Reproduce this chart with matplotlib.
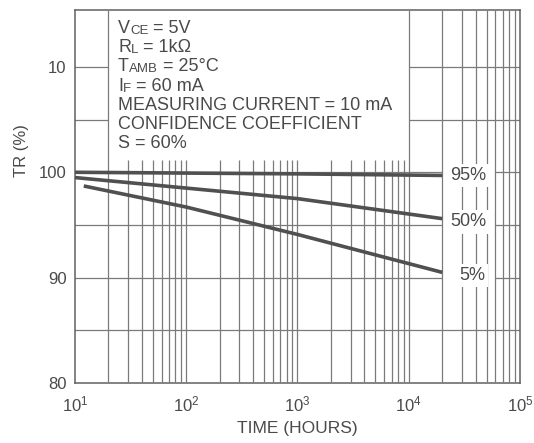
import numpy as np
import matplotlib
matplotlib.use("Agg")
from matplotlib import pyplot as plt
from matplotlib.patches import Rectangle

plt.rcParams['font.family'] = ['Liberation Sans', 'DejaVu Sans']
plt.rcParams['mathtext.fontset'] = 'custom'
plt.rcParams['mathtext.rm'] = 'Liberation Sans'

# curve data (hours, TR %)
t_95 = [10, 1000, 20000]
tr_95 = [100.0, 99.85, 99.7]
t_50 = [10, 100, 1000, 20000]
tr_50 = [99.5, 98.5, 97.5, 95.6]
t_5 = [12, 100, 1000, 20000]
tr_5 = [98.7, 96.7, 94.1, 90.5]
curve_labels = ['95%', '50%', '5%']
label_x = [3.4e4, 3.4e4, 3.7e4]
label_y = [99.7, 95.3, 90.2]

y_ticks = [80, 90, 100, 110]
y_ticklabels = ['80', '90', '100', '10']

cond_lines = [('V', 'CE', ' = 5V'), ('R', 'L', ' = 1k\u03a9'), ('T', 'AMB', ' = 25\u00b0C'),
              ('I', 'F', ' = 60 mA'), ('MEASURING CURRENT = 10 mA', '', ''),
              ('CONFIDENCE COEFFICIENT', '', ''), ('S = 60%', '', '')]

ink = '#4a4a4a'
grid_c = '#7a7a7a'

fig = plt.figure(figsize=(5.34, 4.43), dpi=100)
ax = fig.add_axes([0.1404, 0.1354, 0.8334, 0.842])
ax.set_xscale('log')
ax.set_xlim(10, 1e5)
ax.set_ylim(80, 115.4)

box_top = 101.2
# horizontal grid
for yv in [85, 90, 95, 100, 105, 110]:
    ax.axhline(yv, color=grid_c, lw=0.9, zorder=1)
# white boxes for the conditions text and the curve labels
ax.add_patch(Rectangle((20, box_top), 1e4 - 20, 20, facecolor='white', edgecolor='none', zorder=2))
ax.add_patch(Rectangle((2e4, 88.4), 4e4, box_top + 0.3 - 88.4, facecolor='white', edgecolor='none', zorder=2))

# vertical grid
xs = [m * 10 ** d for d in range(1, 5) for m in range(1, 10)][1:]
for xv in xs:
    top = box_top if 20 < xv < 1e4 else 115.4
    ax.vlines(xv, 80, top, color=grid_c, lw=0.9, zorder=3)

for t, tr in [(t_95, tr_95), (t_50, tr_50), (t_5, tr_5)]:
    ax.plot(t, tr, color='#505050', lw=2.6, solid_capstyle='butt', zorder=4)

for lab, xv, yv in zip(curve_labels, label_x, label_y):
    ax.text(xv, yv, lab, fontsize=13, color=ink, ha='center', va='center', zorder=5,
            bbox=dict(facecolor='white', edgecolor='none', pad=2.5))

# conditions text
fig.canvas.draw()
y0 = 0.9255
for i, (a, b, c) in enumerate(cond_lines):
    yy = y0 - i * 0.0433
    t1 = fig.text(0.221, yy, a, fontsize=13, color=ink, va='baseline')
    if b:
        t2 = ax.annotate(b, xy=(1, 0), xycoords=t1, fontsize=9.5, color=ink, va='bottom')
        ax.annotate(c, xy=(1, 0), xycoords=t2, fontsize=13, color=ink, va='bottom')

ax.set_yticks(y_ticks)
ax.set_yticklabels(y_ticklabels)
ax.tick_params(axis='both', which='both', length=0, labelsize=12, labelcolor=ink, pad=6)
ax.tick_params(axis='x', pad=8)
ax.yaxis.set_minor_locator(matplotlib.ticker.NullLocator())
ax.xaxis.set_minor_locator(matplotlib.ticker.NullLocator())
for s in ax.spines.values():
    s.set_color('#606060')
    s.set_linewidth(1.1)

ax.set_xlabel('TIME (HOURS)', fontsize=12.5, color=ink, labelpad=5)
fig.text(0.041, 0.66, 'TR (%)', fontsize=12, color=ink, rotation=90, ha='center', va='center')

fig.savefig('out.png', dpi=100)
